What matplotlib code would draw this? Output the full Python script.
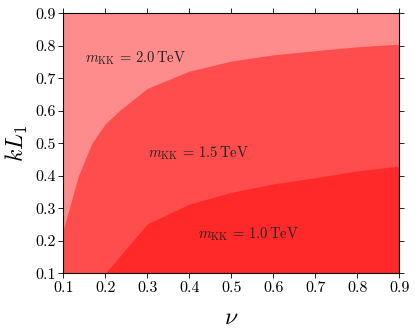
import numpy as np
import matplotlib
matplotlib.use("Agg")
import matplotlib.pyplot as plt

plt.rcParams["mathtext.fontset"] = "cm"
plt.rcParams["font.family"] = "serif"
plt.rcParams["font.serif"] = ["cmr10"]
plt.rcParams["axes.formatter.use_mathtext"] = True

# boundary between 2.0 TeV and 1.5 TeV regions
nu_upper = [0.1, 0.136, 0.168, 0.2, 0.233, 0.3, 0.4, 0.5, 0.6, 0.7, 0.8, 0.9]
kl_upper = [0.235, 0.40, 0.50, 0.56, 0.60, 0.669, 0.722, 0.753, 0.772, 0.785, 0.797, 0.805]

# boundary between 1.5 TeV and 1.0 TeV regions
nu_lower = [0.2, 0.3, 0.4, 0.5, 0.6, 0.7, 0.8, 0.9]
kl_lower = [0.1, 0.252, 0.313, 0.349, 0.375, 0.394, 0.415, 0.43]

labels = [r"$m_{\rm KK}\,=\,2.0\,{\rm TeV}$", r"$m_{\rm KK}\,=\,1.5\,{\rm TeV}$", r"$m_{\rm KK}\,=\,1.0\,{\rm TeV}$"]
label_pos = [(0.152, 0.762), (0.302, 0.47), (0.42, 0.221)]

fig = plt.figure(figsize=(4.15, 3.33), dpi=100)
ax = fig.add_axes([63.3 / 415, 1 - 273.3 / 333, 336 / 415, 260 / 333])

a = 0.45
ax.fill_between([0.1, 0.9], 0.1, 0.9, color="red", alpha=a, lw=0)
ax.fill_between(nu_upper, 0.1, kl_upper, color="red", alpha=a, lw=0)
ax.fill_between(nu_lower, 0.1, kl_lower, color="red", alpha=a, lw=0)

for txt, (x, y) in zip(labels, label_pos):
    ax.text(x, y, txt, fontsize=10.5, va="center", ha="left", color="#222222")

ax.set_xlim(0.1, 0.9)
ax.set_ylim(0.1, 0.9)
ticks = np.round(np.arange(0.1, 0.91, 0.1), 1)
ax.set_xticks(ticks)
ax.set_yticks(ticks)
ax.set_xticklabels([f"{t:.1f}" for t in ticks])
ax.set_yticklabels([f"{t:.1f}" for t in ticks])
ax.tick_params(direction="out", top=True, right=True, labelsize=11.5, length=3.5, width=0.6, pad=2)
for s in ax.spines.values():
    s.set_linewidth(0.8)

ax.set_xlabel(r"$\nu$", fontsize=17, labelpad=9)
ax.set_ylabel(r"$kL_1$", fontsize=17, labelpad=4)

fig.savefig("out.png", dpi=100)
